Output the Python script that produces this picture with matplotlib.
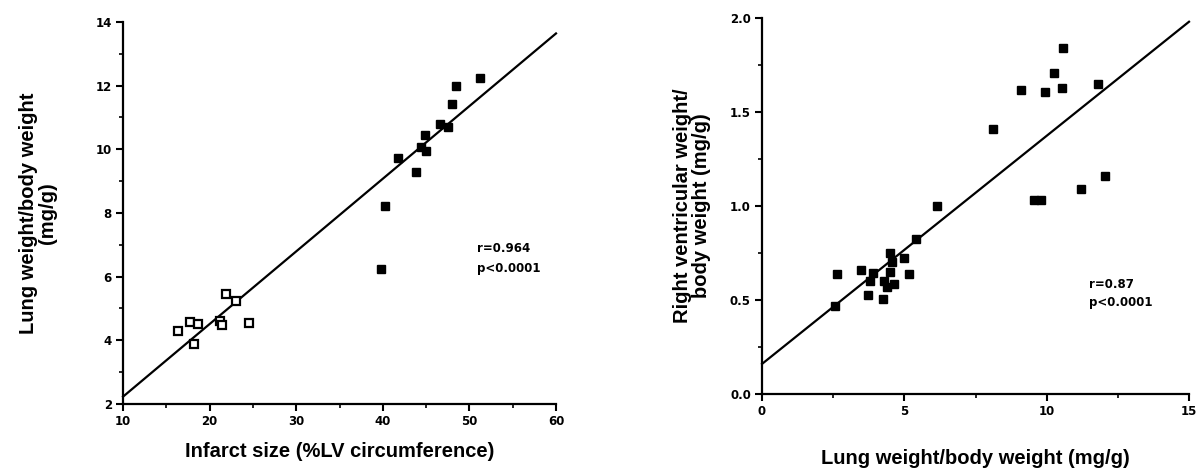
import matplotlib
matplotlib.use("Agg")
import matplotlib.pyplot as plt
from matplotlib.ticker import MultipleLocator

plt.rcParams['font.family'] = ['Liberation Sans', 'DejaVu Sans']
plt.rcParams['font.weight'] = 'bold'

# Left panel: infarct size vs lung weight / body weight
open_infarct = [16.3, 17.7, 18.6, 18.2, 21.9, 23.1, 21.2, 21.4, 24.5]
open_lung = [4.29, 4.56, 4.50, 3.87, 5.44, 5.23, 4.62, 4.48, 4.53]
filled_infarct = [39.8, 40.2, 41.8, 43.8, 44.4, 44.9, 45.0, 46.6, 47.5, 48.0, 48.4, 51.2]
filled_lung = [6.25, 8.23, 9.72, 9.28, 10.08, 10.46, 9.96, 10.78, 10.70, 11.41, 12.0, 12.25]
fit1_x = [10, 60]
fit1_y = [2.23, 13.64]

# Right panel: lung weight vs RV weight / body weight
lung_bw = [2.64, 2.58, 3.48, 3.90, 3.79, 3.71, 4.26, 4.30, 4.38, 4.50, 4.55, 4.50,
           4.63, 5.00, 5.17, 5.40, 6.15, 8.13, 9.11, 9.95, 10.27, 10.55, 10.57,
           11.81, 9.54, 9.80, 11.21, 12.05]
rv_bw = [0.64, 0.468, 0.66, 0.645, 0.60, 0.527, 0.507, 0.60, 0.57, 0.752, 0.704, 0.647,
         0.584, 0.724, 0.638, 0.826, 0.999, 1.408, 1.617, 1.604, 1.706, 1.630, 1.840,
         1.651, 1.031, 1.031, 1.091, 1.161]
fit2_x = [0, 15]
fit2_y = [0.16, 1.98]

SMALL = dict(family='DejaVu Sans', fontweight='bold', fontsize=8.5)

fig = plt.figure(figsize=(11.98, 4.72), dpi=100)
ax1 = fig.add_axes([0.1027, 0.1441, 0.3614, 0.8093])
ax2 = fig.add_axes([0.6361, 0.1653, 0.3564, 0.7966])

def style(ax):
    for s in ['top', 'right']:
        ax.spines[s].set_visible(False)
    for s in ['left', 'bottom']:
        ax.spines[s].set_linewidth(1.6)
    ax.tick_params(which='major', direction='out', length=5, width=1.5, pad=3)
    ax.tick_params(which='minor', direction='out', length=3, width=1.2)
    for lab in ax.get_xticklabels() + ax.get_yticklabels():
        lab.set_fontfamily('DejaVu Sans')
        lab.set_fontweight('bold')
        lab.set_fontsize(8.5)

# left
ax1.plot(fit1_x, fit1_y, color='black', lw=1.6, clip_on=False)
ax1.plot(filled_infarct, filled_lung, 's', color='black', ms=5.5, clip_on=False)
ax1.plot(open_infarct, open_lung, 's', mfc='white', mec='black', mew=1.6, ms=5.5,
         clip_on=False)
ax1.set_xlim(10, 60)
ax1.set_ylim(2, 14)
ax1.xaxis.set_major_locator(MultipleLocator(10))
ax1.xaxis.set_minor_locator(MultipleLocator(5))
ax1.yaxis.set_major_locator(MultipleLocator(2))
ax1.yaxis.set_minor_locator(MultipleLocator(1))
style(ax1)
ax1.set_xlabel('Infarct size (%LV circumference)', fontsize=14.5, fontweight='bold',
               labelpad=10)
ax1.set_ylabel('Lung weight/body weight\n(mg/g)', fontsize=14.5, fontweight='bold',
               linespacing=1.0)
ax1.yaxis.set_label_coords(-0.152, 0.5)
ax1.text(50.9, 6.87, 'r=0.964', va='center', **SMALL)
ax1.text(50.9, 6.27, 'p<0.0001', va='center', **SMALL)

# right
ax2.plot(fit2_x, fit2_y, color='black', lw=1.6, clip_on=False)
ax2.plot(lung_bw, rv_bw, 's', color='black', ms=5.5, clip_on=False)
ax2.set_xlim(0, 15)
ax2.set_ylim(0, 2)
ax2.xaxis.set_major_locator(MultipleLocator(5))
ax2.xaxis.set_minor_locator(MultipleLocator(2.5))
ax2.yaxis.set_major_locator(MultipleLocator(0.5))
ax2.yaxis.set_minor_locator(MultipleLocator(0.25))
ax2.yaxis.set_major_formatter(plt.FormatStrFormatter('%.1f'))
style(ax2)
ax2.set_xlabel('Lung weight/body weight (mg/g)', fontsize=14.5, fontweight='bold',
               labelpad=22)
ax2.set_ylabel('Right ventricular weight/\nbody weight (mg/g)', fontsize=14.5,
               fontweight='bold', linespacing=1.0)
ax2.yaxis.set_label_coords(-0.119, 0.5)
ax2.text(11.47, 0.58, 'r=0.87', va='center', **SMALL)
ax2.text(11.47, 0.484, 'p<0.0001', va='center', **SMALL)

fig.savefig('out.png', dpi=100)
